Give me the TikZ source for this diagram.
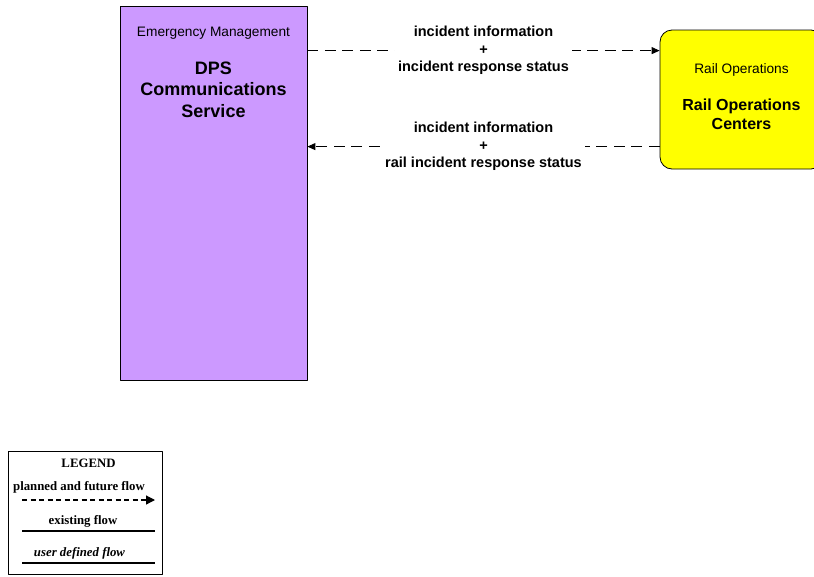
\documentclass[tikz,border=0pt]{standalone}
\usepackage{fontspec}
\setmainfont{Liberation Sans}
\newfontfamily\legendfont{Liberation Serif}
\usetikzlibrary{arrows.meta, positioning, calc}

\definecolor{dpspurple}{RGB}{204,153,255}
\definecolor{railyellow}{RGB}{255,255,0}

\tikzset{
    flowline/.style={line width=0.9pt, dash pattern=on 11pt off 6.5pt},
    flowlabel/.style={fill=white, align=center, inner xsep=3pt, inner ysep=0pt,
        font=\fontsize{14.5}{17.5}\selectfont\bfseries},
    classtext/.style={font=\fontsize{13.7}{15}\selectfont},
    nametext/.style={align=center, font=\fontsize{18}{21.5}\selectfont\bfseries},
    legendtext/.style={font=\legendfont\bfseries\fontsize{12.8}{14}\selectfont},
}

\begin{document}
\begin{tikzpicture}[x=1pt, y=-1pt, >={Triangle[length=8pt,width=7pt]}, line join=round]
    \clip (0,0) rectangle (814,576);
    \fill[white] (0,0) rectangle (814,576);

    % 系统框
    \node[draw, fill=dpspurple, line width=0.8pt, minimum width=187pt, minimum height=374pt, inner sep=0pt] (dps) at (213.5,193) {};
    \node[classtext] (dpsclass) at (213.5,33) {Emergency Management};
    \node[nametext] (dpsname) at (213.5,89.5) {DPS\\Communications\\Service};

    \node[draw, fill=railyellow, line width=0.8pt, rounded corners=12pt, minimum width=163pt, minimum height=139pt, inner sep=0pt] (rail) at (741.5,99.5) {};
    \node[classtext] (railclass) at (741.5,70) {Rail Operations};
    \node[nametext, font=\fontsize{16}{19}\selectfont\bfseries] (railname) at (741.5,114.5) {Rail Operations\\Centers};

    % 信息流
    \coordinate (dpsA) at ($(dps.north east)+(0,45)$);
    \coordinate (railA) at ($(rail.north west)+(0,21)$);
    \coordinate (dpsB) at ($(dps.north east)+(0,141)$);
    \coordinate (railB) at ($(rail.north west)+(0,117)$);
    \draw[flowline, ->] (dpsA) -- (railA) node[midway, flowlabel] {incident information\\+\\incident response status};
    \draw[flowline, ->] (railB) -- (dpsB) node[midway, flowlabel] {incident information\\+\\rail incident response status};

    % 图例
    \node[draw, line width=0.8pt, minimum width=154pt, minimum height=123.5pt, inner sep=0pt] (legend) at (85,512.75) {};
    \node[legendtext] (lgtitle) at (88.5,463) {LEGEND};
    \node[legendtext] (lgplanned) at (79,487) {planned and future flow};
    \node[legendtext] (lgexisting) at (83,521) {existing flow};
    \node[legendtext, font=\legendfont\bfseries\itshape\fontsize{12.8}{14}\selectfont] (lguser) at (79.5,553) {user defined flow};
    \coordinate (lgA1) at (22,500);
    \coordinate (lgA2) at (155,500);
    \coordinate (lgB1) at (22,531);
    \coordinate (lgB2) at (155,531);
    \coordinate (lgC1) at (22,563);
    \coordinate (lgC2) at (155,563);
    \draw[line width=1.2pt, dash pattern=on 5pt off 3.5pt, -{Triangle[length=9pt,width=9pt]}] (lgA1) -- (lgA2);
    \draw[line width=1.3pt] (lgB1) -- (lgB2);
    \draw[line width=1.3pt] (lgC1) -- (lgC2);
\end{tikzpicture}
\end{document}
